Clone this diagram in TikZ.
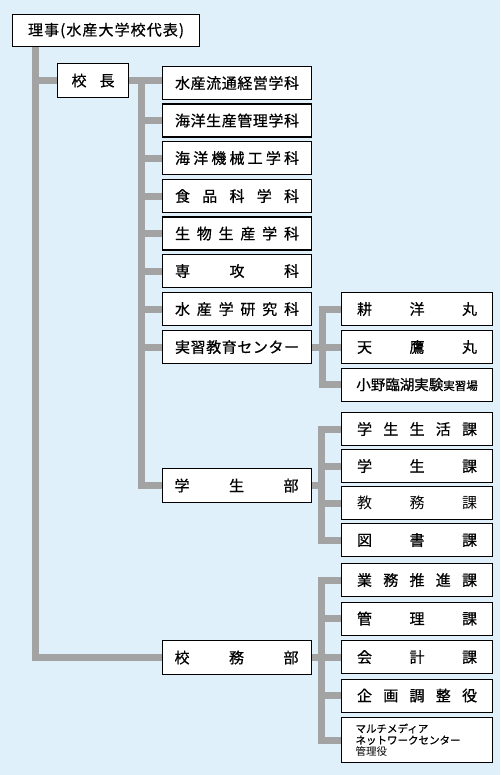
\documentclass[tikz,border=0pt]{standalone}
\usepackage{fontspec}
\usetikzlibrary{backgrounds}
\newfontfamily\jp[FakeBold=0.7]{Noto Sans CJK JP}
\newfontfamily\jpl{Noto Sans CJK JP}
\definecolor{bgc}{RGB}{223,240,251}
\definecolor{lgray}{RGB}{163,163,163}
\newcommand\midt[1]{\makebox[124pt]{#1}}
\newcommand\rtt[1]{\makebox[120pt]{#1}}
\tikzset{
  box/.style={draw=black, line width=1.1pt, fill=white, anchor=north west,
    minimum height=33pt, inner sep=0pt, font=\jp\fontsize{15}{18}\selectfont},
  midbox/.style={box, minimum width=149pt},
  rtbox/.style={box, minimum width=151pt},
  ln/.style={draw=lgray, line width=7pt},
}
\begin{document}
\begin{tikzpicture}[x=1pt,y=-1pt]
\useasboundingbox (0,0) rectangle (500,775);
% nodes
\node[box, minimum width=187pt, minimum height=32pt] (rj) at (12,14)
  {\makebox[156pt]{理\hfill 事\hfill (\hfill 水\hfill 産\hfill 大\hfill 学\hfill 校\hfill 代\hfill 表\hfill )}};
\node[box, minimum width=71pt, minimum height=34pt] (kc) at (57,63) {校\hspace{13pt}長};

\node[midbox] (m1) at (162,66)    {\midt{水\hfill 産\hfill 流\hfill 通\hfill 経\hfill 営\hfill 学\hfill 科}};
\node[midbox] (m2) at (162,103.5) {\midt{海\hfill 洋\hfill 生\hfill 産\hfill 管\hfill 理\hfill 学\hfill 科}};
\node[midbox] (m3) at (162,141)   {\midt{海\hfill 洋\hfill 機\hfill 械\hfill 工\hfill 学\hfill 科}};
\node[midbox] (m4) at (162,179)   {\midt{食\hfill 品\hfill 科\hfill 学\hfill 科}};
\node[midbox] (m5) at (162,216.5) {\midt{生\hfill 物\hfill 生\hfill 産\hfill 学\hfill 科}};
\node[midbox] (m6) at (162,254)   {\midt{専\hfill 攻\hfill 科}};
\node[midbox] (m7) at (162,292)   {\midt{水\hfill 産\hfill 学\hfill 研\hfill 究\hfill 科}};
\node[midbox] (m8) at (162,330)   {\midt{実\hfill 習\hfill 教\hfill 育\hfill セ\hfill ン\hfill タ\hfill ー}};
\node[midbox, minimum height=34pt] (gs) at (161.5,468) {\midt{学\hfill 生\hfill 部}};
\node[midbox, minimum height=34pt] (kmb) at (161.5,640) {\midt{校\hfill 務\hfill 部}};

\node[rtbox] (r1) at (341,292)   {\rtt{耕\hfill 洋\hfill 丸}};
\node[rtbox] (r2) at (341,330)   {\rtt{天\hfill 鷹\hfill 丸}};
\node[rtbox] (r3) at (341,367.5) {\fontsize{14.5}{18}\selectfont 小野臨湖実験{\fontsize{11.5}{14}\selectfont 実習場}};

\node[rtbox] (s1) at (341,412) {\rtt{学\hfill 生\hfill 生\hfill 活\hfill 課}};
\node[rtbox] (s2) at (341,449) {\rtt{学\hfill 生\hfill 課}};
\node[rtbox, font=\jpl\fontsize{15}{18}\selectfont] (s3) at (341,486) {\rtt{教\hfill 務\hfill 課}};
\node[rtbox] (s4) at (341,523) {\rtt{図\hfill 書\hfill 課}};

\node[rtbox] (k1) at (341,563)   {\rtt{業\hfill 務\hfill 推\hfill 進\hfill 課}};
\node[rtbox] (k2) at (341,601.5) {\rtt{管\hfill 理\hfill 課}};
\node[rtbox] (k3) at (341,640)   {\rtt{会\hfill 計\hfill 課}};
\node[rtbox] (k4) at (341,678.5) {\rtt{企\hfill 画\hfill 調\hfill 整\hfill 役}};
\node[rtbox, minimum height=45pt, text width=123pt, inner xsep=14pt, align=left,
  font=\jp\fontsize{10.5}{11.5}\selectfont] (k5) at (341,717)
  {マルチメディア\\ネットワークセンター\\{\jpl 管理役}};

% junction coordinates
\coordinate (t0) at ([xshift=23.5pt]rj.south west);
\coordinate (c1) at ([xshift=12pt]kc.east);
\coordinate (j1) at ([xshift=10pt]m8.east);
\coordinate (j2) at ([xshift=9.5pt]gs.east);
\coordinate (j3) at ([xshift=9.5pt]kmb.east);

\begin{scope}[on background layer]
\fill[bgc] (0,0) rectangle (500,775);
% trunk
\draw[ln] (t0) |- (kmb.west);
\draw[ln] (t0) |- (kc.west);
% principal to departments
\draw[ln] (kc.east) -- (kc.east -| m1.west);
\draw[ln] (c1) |- (gs.west);
\foreach \n in {m2,m3,m4,m5,m6,m7,m8}
  \draw[ln] (\n.west -| c1) -- (\n.west);
% training center subtree
\draw[ln] (r1.west) -| (j1) |- (r3.west);
\draw[ln] (m8.east) -- (r2.west);
% student affairs subtree
\draw[ln] (s1.west) -| (j2) |- (s4.west);
\draw[ln] (gs.east) -- (j2);
\foreach \n in {s2,s3}
  \draw[ln] (\n.west -| j2) -- (\n.west);
% general affairs subtree
\draw[ln] (k1.west) -| (j3) |- (k5.west);
\draw[ln] (kmb.east) -- (j3);
\foreach \n in {k2,k3,k4}
  \draw[ln] (\n.west -| j3) -- (\n.west);
\end{scope}
\end{tikzpicture}
\end{document}
